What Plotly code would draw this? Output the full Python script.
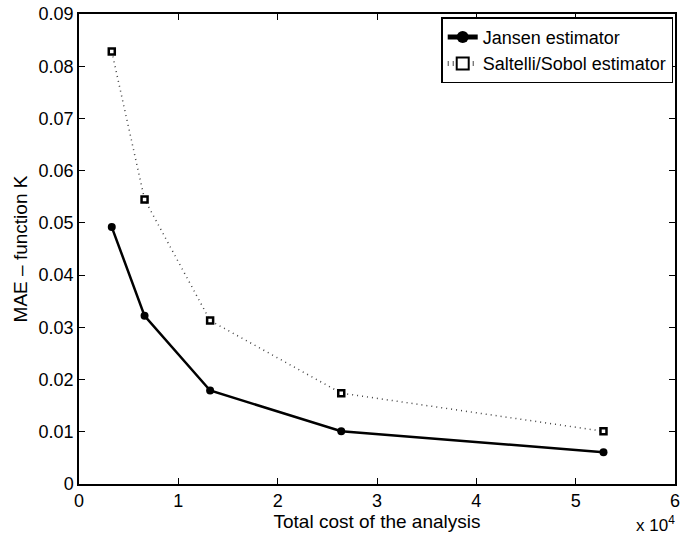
import plotly.graph_objects as go

cost = [3300, 6600, 13200, 26400, 52800]
jansen = [0.0492, 0.0322, 0.0179, 0.0101, 0.0061]
saltelli = [0.0828, 0.0545, 0.0313, 0.0174, 0.0101]

x_tickvals = [0, 10000, 20000, 30000, 40000, 50000, 60000]
x_ticktext = ["0", "1", "2", "3", "4", "5", "6"]
y_tickvals = [0, 0.01, 0.02, 0.03, 0.04, 0.05, 0.06, 0.07, 0.08, 0.09]
y_ticktext = ["0", "0.01", "0.02", "0.03", "0.04", "0.05", "0.06", "0.07", "0.08", "0.09"]

FONT = "Liberation Sans, Arial, Helvetica, sans-serif"

fig = go.Figure()
fig.add_trace(go.Scatter(
    x=cost, y=jansen, name="Jansen estimator", mode="lines+markers",
    line=dict(color="black", width=2.5),
    marker=dict(symbol="circle", size=8, color="black"),
))
fig.add_trace(go.Scatter(
    x=cost, y=saltelli, name="Saltelli/Sobol estimator", mode="lines+markers",
    line=dict(color="#444444", width=1.5, dash="1px,4px"),
    marker=dict(symbol="square", size=6, color="white", line=dict(color="black", width=2.5)),
))

axis_common = dict(
    showgrid=False, zeroline=False, showline=True, linecolor="black", linewidth=1.5,
    mirror="ticks", ticks="inside", ticklen=6, tickwidth=1, tickcolor="black",
    tickfont=dict(family=FONT, size=18, color="black"), automargin=False,
)
fig.update_xaxes(range=[0, 60000], tickvals=x_tickvals, ticktext=x_ticktext,
                 title=dict(text="Total cost of the analysis", font=dict(family=FONT, size=19, color="black"), standoff=0),
                 **axis_common)
fig.update_yaxes(range=[0, 0.09], tickvals=y_tickvals, ticktext=y_ticktext,
                 title=dict(text="MAE – function K", font=dict(family=FONT, size=19, color="black"), standoff=6),
                 **axis_common)

fig.add_annotation(text="x 10<sup>4</sup>", xref="paper", yref="paper", x=1.003, y=-0.113,
                   xanchor="right", yanchor="bottom", showarrow=False,
                   font=dict(family=FONT, size=17, color="black"))

fig.update_layout(
    width=691, height=538,
    margin=dict(l=79, r=16, t=14, b=54, autoexpand=False),
    plot_bgcolor="white", paper_bgcolor="white",
    font=dict(family=FONT, size=18, color="black"),
    legend=dict(x=0.997, y=0.993, xanchor="right", yanchor="top",
                bordercolor="black", borderwidth=1.5, bgcolor="white",
                font=dict(family=FONT, size=18, color="black"),
                tracegroupgap=0, itemsizing="constant"),
)

fig.write_html("out.html")
